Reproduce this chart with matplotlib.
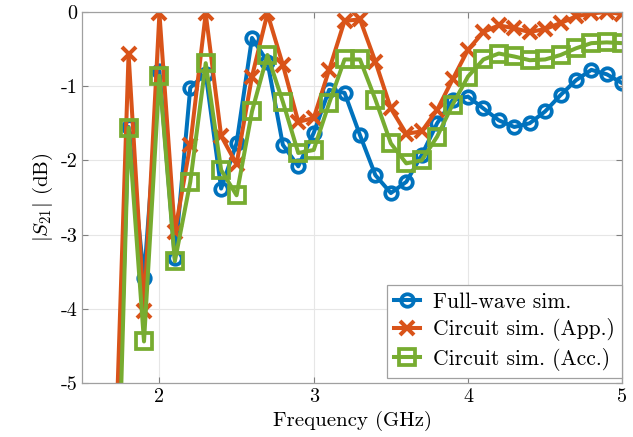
import numpy as np
import matplotlib
matplotlib.use('Agg')
import matplotlib.pyplot as plt

plt.rcParams['font.family'] = 'cmr10'
plt.rcParams['mathtext.fontset'] = 'cm'
plt.rcParams['axes.unicode_minus'] = False

freq = np.round(np.arange(1.7, 5.01, 0.1), 1)

full_wave = [-8.0, -1.55, -3.58, -0.80, -3.32, -1.02, -0.83, -2.38, -1.77, -0.35,
             -0.67, -1.79, -2.08, -1.63, -1.05, -1.09, -1.66, -2.20, -2.44, -2.29,
             -1.93, -1.50, -1.19, -1.14, -1.30, -1.46, -1.55, -1.50, -1.34, -1.12,
             -0.92, -0.78, -0.84, -0.96]
circuit_app = [-6.9, -0.57, -4.03, -0.02, -2.97, -1.79, -0.02, -1.67, -2.05, -0.87,
               -0.02, -0.71, -1.48, -1.43, -0.78, -0.12, -0.10, -0.67, -1.30, -1.64,
               -1.61, -1.32, -0.91, -0.51, -0.27, -0.18, -0.22, -0.27, -0.23, -0.15,
               -0.06, -0.02, 0.0, -0.03]
circuit_acc = [-8.9, -1.56, -4.44, -0.86, -3.36, -2.29, -0.69, -2.13, -2.47, -1.34,
               -0.58, -1.21, -1.90, -1.86, -1.23, -0.64, -0.64, -1.18, -1.77, -2.04,
               -2.00, -1.68, -1.25, -0.87, -0.64, -0.56, -0.60, -0.65, -0.64, -0.58,
               -0.49, -0.42, -0.41, -0.42]

fig = plt.figure(figsize=(6.33, 4.37), dpi=100)
ax = fig.add_axes([0.130, 0.1236, 0.853, 0.849])

ax.plot(freq, full_wave, '-o', color='#0072BD', lw=2.9, ms=9, mew=2.7,
        mfc='none', label='Full-wave sim.')
ax.plot(freq, circuit_app, '-x', color='#D95319', lw=2.9, ms=10, mew=2.9,
        label='Circuit sim. (App.)')
ax.plot(freq, circuit_acc, '-s', color='#77AC30', lw=2.9, ms=11, mew=2.7,
        mfc='none', label='Circuit sim. (Acc.)')

ax.set_xlim(1.5, 5)
ax.set_ylim(-5, 0)
ax.set_xticks([2, 3, 4, 5])
ax.set_yticks([-5, -4, -3, -2, -1, 0])
ax.grid(True, color='#e6e6e6', lw=0.8)
ax.set_axisbelow(True)
ax.tick_params(direction='in', top=True, right=True, length=4,
               color='#808080', labelsize=14.5)
for s in ax.spines.values():
    s.set_color('#a0a0a0')
    s.set_linewidth(0.9)

ax.set_xlabel('Frequency (GHz)', fontsize=15)
ax.set_ylabel(r'$|S_{21}|$ (dB)', fontsize=15)

leg = ax.legend(loc='lower right', bbox_to_anchor=(1.0, 0.013), fontsize=15.5,
                handlelength=1.2, borderaxespad=0, fancybox=False,
                framealpha=1, edgecolor='#a0a0a0', labelspacing=0.3,
                handletextpad=0.6, borderpad=0.35)
leg.get_frame().set_linewidth(0.9)

fig.savefig('out.png', dpi=100)
